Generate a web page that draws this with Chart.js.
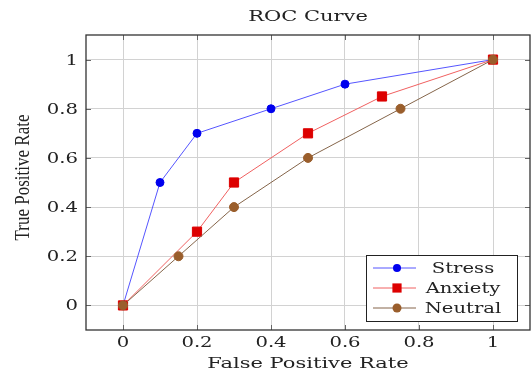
<!DOCTYPE html>
<html>
<head>
<meta charset="utf-8">
<script src="https://cdn.jsdelivr.net/npm/chart.js@4"></script>
<style>
  html, body { margin: 0; padding: 0; background: #fff; }
  #wrap { width: 532px; height: 375px; }
</style>
</head>
<body>
<div id="wrap"><canvas id="chart" width="532" height="375"></canvas></div>
<script>
// Данные ROC
const chartTitle = 'ROC Curve';
const xTitle = 'False Positive Rate';
const yTitle = 'True Positive Rate';
const seriesNames = ['Stress', 'Anxiety', 'Neutral'];
const stressFpr = [0, 0.1, 0.2, 0.4, 0.6, 1];
const stressTpr = [0, 0.5, 0.7, 0.8, 0.9, 1];
const anxietyFpr = [0, 0.2, 0.3, 0.5, 0.7, 1];
const anxietyTpr = [0, 0.3, 0.5, 0.7, 0.85, 1];
const neutralFpr = [0, 0.15, 0.3, 0.5, 0.75, 1];
const neutralTpr = [0, 0.2, 0.4, 0.6, 0.8, 1];
const tickValues = [0, 0.2, 0.4, 0.6, 0.8, 1];
const tickLabels = ['0', '0.2', '0.4', '0.6', '0.8', '1'];

const serif = "'DejaVu Serif', serif";
const stretch = 1.4; // шрифт LaTeX на картинке растянут по ширине
const ink = '#222';

const toPoints = (xs, ys) => xs.map((x, i) => ({ x: x, y: ys[i] }));

// Текст с растяжкой по горизонтали
function drawText(ctx, text, x, y, opts) {
  ctx.save();
  ctx.translate(x, y);
  if (opts.rotate) ctx.rotate(opts.rotate);
  ctx.scale(opts.sx || 1, opts.sy || 1);
  ctx.font = opts.font;
  ctx.fillStyle = ink;
  ctx.textAlign = opts.align || 'center';
  ctx.textBaseline = opts.baseline || 'alphabetic';
  ctx.fillText(text, 0, 0);
  ctx.restore();
}

// Рамка, засечки, подписи осей и заголовок
const frame = {
  id: 'frame',
  afterDatasetsDraw(chart) {
    const { ctx, chartArea: a, scales } = chart;
    ctx.save();
    // засечки внутрь со всех сторон, как в pgfplots
    ctx.strokeStyle = '#666';
    ctx.lineWidth = 1;
    ctx.beginPath();
    tickValues.forEach((v) => {
      const px = Math.round(scales.x.getPixelForValue(v)) + 0.5;
      const py = Math.round(scales.y.getPixelForValue(v)) + 0.5;
      ctx.moveTo(px, a.bottom); ctx.lineTo(px, a.bottom - 5);
      ctx.moveTo(px, a.top); ctx.lineTo(px, a.top + 5);
      ctx.moveTo(a.left, py); ctx.lineTo(a.left + 5, py);
      ctx.moveTo(a.right, py); ctx.lineTo(a.right - 5, py);
    });
    ctx.stroke();
    ctx.strokeStyle = '#333';
    ctx.lineWidth = 1.3;
    ctx.strokeRect(a.left, a.top, a.right - a.left, a.bottom - a.top);
    ctx.restore();

    tickValues.forEach((v, i) => {
      drawText(ctx, tickLabels[i], scales.x.getPixelForValue(v), a.bottom + 17,
        { font: '14px ' + serif, sx: stretch });
      drawText(ctx, tickLabels[i], a.left - 8, scales.y.getPixelForValue(v) + 5,
        { font: '14px ' + serif, sx: stretch, align: 'right' });
    });
    const cx = (a.left + a.right) / 2;
    drawText(ctx, chartTitle, cx, 21, { font: '15px ' + serif, sx: stretch });
    drawText(ctx, xTitle, cx, a.bottom + 38, { font: '15px ' + serif, sx: stretch });
    drawText(ctx, yTitle, 23, (a.top + a.bottom) / 2 - 5,
      { font: "17px 'Liberation Serif', serif", rotate: -Math.PI / 2, sy: 1.25, baseline: 'middle' });
  }
};

// Легенда внутри области графика
const insideLegend = {
  id: 'insideLegend',
  afterDraw(chart) {
    const { ctx, chartArea } = chart;
    const w = 151, h = 66;
    const x0 = chartArea.right - 13 - w;
    const y0 = chartArea.bottom - 9 - h;
    ctx.save();
    ctx.fillStyle = '#fff';
    ctx.fillRect(x0, y0, w, h);
    ctx.strokeStyle = ink;
    ctx.lineWidth = 1;
    ctx.strokeRect(x0 + 0.5, y0 + 0.5, w, h);
    chart.data.datasets.forEach((ds, i) => {
      const cy = y0 + 13 + i * 20;
      ctx.strokeStyle = ds.borderColor;
      ctx.lineWidth = 1;
      ctx.beginPath();
      ctx.moveTo(x0 + 7, cy);
      ctx.lineTo(x0 + 50, cy);
      ctx.stroke();
      ctx.fillStyle = ds.pointBackgroundColor;
      ctx.beginPath();
      if (ds.pointStyle === 'rect') {
        const s = ds.pointRadius * Math.SQRT1_2;
        ctx.fillRect(x0 + 31 - s, cy - s, 2 * s, 2 * s);
      } else {
        ctx.arc(x0 + 31, cy, ds.pointRadius, 0, Math.PI * 2);
        ctx.fill();
      }
      drawText(ctx, ds.label, x0 + 97, cy + 5, { font: '14px ' + serif, sx: stretch });
    });
    ctx.restore();
  }
};

const ctx = document.getElementById('chart').getContext('2d');
const chart = new Chart(ctx, {
  type: 'line',
  data: {
    datasets: [
      {
        label: seriesNames[0],
        data: toPoints(stressFpr, stressTpr),
        borderColor: '#5555ff',
        borderWidth: 1,
        pointStyle: 'circle',
        pointRadius: 4,
        pointHoverRadius: 4,
        pointBackgroundColor: '#0000ee',
        pointBorderColor: '#0000ee',
        order: 2
      },
      {
        label: seriesNames[1],
        data: toPoints(anxietyFpr, anxietyTpr),
        borderColor: '#f06060',
        borderWidth: 1,
        pointStyle: 'rect',
        pointRadius: 6.5,
        pointHoverRadius: 6.5,
        pointBackgroundColor: '#dd0000',
        pointBorderColor: '#dd0000',
        order: 1
      },
      {
        label: seriesNames[2],
        data: toPoints(neutralFpr, neutralTpr),
        borderColor: '#85654a',
        borderWidth: 1,
        pointStyle: 'circle',
        pointRadius: 4.5,
        pointHoverRadius: 4.5,
        pointBackgroundColor: '#9a5e2c',
        pointBorderColor: '#9a5e2c',
        order: 0
      }
    ]
  },
  options: {
    responsive: false,
    animation: false,
    layout: { autoPadding: false, padding: { left: 0, right: 2, top: 35, bottom: 0 } },
    plugins: {
      legend: { display: false },
      tooltip: { enabled: false },
      title: { display: false }
    },
    scales: {
      x: {
        type: 'linear',
        min: -0.1,
        max: 1.1,
        afterBuildTicks: (s) => { s.ticks = tickValues.map(v => ({ value: v })); },
        afterFit: (s) => { s.height = 45; s.paddingLeft = 0; s.paddingRight = 0; },
        ticks: { display: false },
        grid: { color: '#d2d2d2', drawTicks: false },
        border: { display: false }
      },
      y: {
        type: 'linear',
        min: -0.1,
        max: 1.1,
        afterBuildTicks: (s) => { s.ticks = tickValues.map(v => ({ value: v })); },
        afterFit: (s) => { s.width = 86; s.paddingTop = 0; s.paddingBottom = 0; },
        ticks: { display: false },
        grid: { color: '#d2d2d2', drawTicks: false },
        border: { display: false }
      }
    }
  },
  plugins: [frame, insideLegend]
});
</script>
</body>
</html>
